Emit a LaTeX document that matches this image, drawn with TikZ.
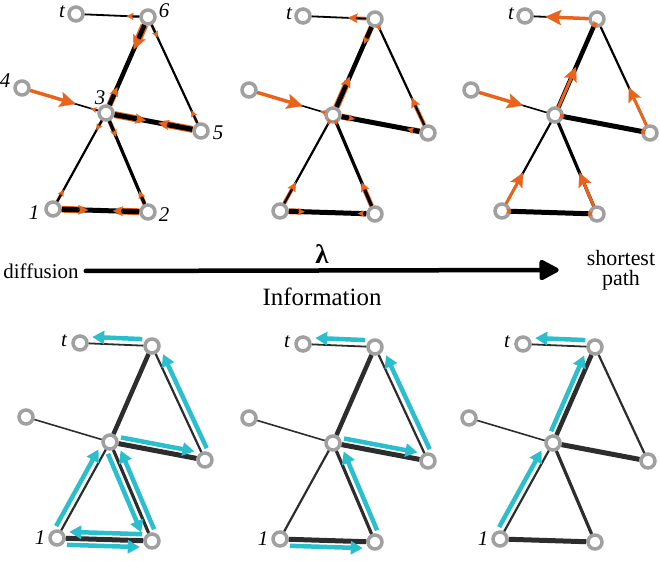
\documentclass[tikz,border=0pt]{standalone}
\usepackage{fontspec}
\setmainfont{Liberation Serif}
\usetikzlibrary{calc,arrows.meta}
\definecolor{org}{RGB}{232,100,28}
\definecolor{cyn}{RGB}{43,190,205}
\definecolor{ringgray}{RGB}{160,160,160}
\definecolor{dk}{RGB}{45,45,45}
\tikzset{
  vtx/.style={circle,draw=ringgray,line width=3.5bp,fill=white,minimum size=14bp,inner sep=0pt},
  lbl/.style={font=\fontsize{21}{21}\selectfont\itshape,inner sep=0pt},
  txt/.style={font=\fontsize{21}{21}\selectfont,inner sep=0pt,align=center},
  cyarr/.style={draw=cyn,line width=4.5bp,-{Triangle[length=12bp,width=13bp]}},
  mainarr/.style={draw=black,line width=4.5bp,-{Triangle[length=22bp,width=22bp,round]}},
}
\newcommand\mkgraph[3]{%
  \node[vtx] (#1-3) at (#2,#3) {};
  \node[vtx] (#1-t) at (#2-30,#3-99) {};
  \node[vtx] (#1-6) at (#2+42,#3-96) {};
  \node[vtx] (#1-4) at (#2-84,#3-25) {};
  \node[vtx] (#1-5) at (#2+95,#3+18) {};
  \node[vtx] (#1-1) at (#2-53,#3+96) {};
  \node[vtx] (#1-2) at (#2+42,#3+99) {};
}
\newcommand\mkedges[2]{%
  \draw[#2,line width=1.8bp] (#1-t) -- (#1-6);
  \draw[#2,line width=4.5bp] (#1-6) -- (#1-3);
  \draw[#2,line width=2.2bp] (#1-6) -- (#1-5);
  \draw[#2,line width=1.6bp] (#1-4) -- (#1-3);
  \draw[#2,line width=5bp] (#1-3) -- (#1-5);
  \draw[#2,line width=2.2bp] (#1-3) -- (#1-1);
  \draw[#2,line width=3.2bp] (#1-3) -- (#1-2);
  \draw[#2,line width=5bp] (#1-1) -- (#1-2);
}
% #1 prefix, #2 under-list a/b/f/w/e, #3 top-list a/b/f/w
\newcommand\oflows[3]{%
  \foreach \a/\b/\f/\w/\e in {#2}{%
    \pgfmathsetmacro\U{\e+\w}\pgfmathsetmacro\H{0.5*(3.6*\w+3.5)}%
    \draw[org,line width=\U bp] (#1-\a) -- ($(#1-\a)!\f!(#1-\b)!\H bp!(#1-\a)$);}
  \mkedges{#1}{black}
  \foreach \a/\b/\f/\w in {#3}{%
    \pgfmathsetmacro\H{0.5*(3.6*\w+3.5)}%
    \draw[org,line width=\w bp] (#1-\a) -- ($(#1-\a)!\f!(#1-\b)!\H bp!(#1-\a)$);}
  \foreach \a/\b/\f/\w/\e in {#2}{\otip{#1}{\a}{\b}{\f}{\w}}
  \foreach \a/\b/\f/\w in {#3}{\otip{#1}{\a}{\b}{\f}{\w}}
}
\newcommand\otip[5]{%
  \pgfmathsetmacro\L{3.6*#5+3.5}\pgfmathsetmacro\W{3.4*#5+3.5}\pgfmathsetmacro\I{0.2*\L}%
  \draw[org,line width=0.2bp,-{Stealth[length=\L bp,width=\W bp,inset=\I bp]}]
    ($(#1-#2)!#4!(#1-#3)!\L bp!(#1-#2)$) -- ($(#1-#2)!#4!(#1-#3)$);
}
% cyan arrows: a/b/side(90 or 270)
\newcommand\cflows[2]{%
  \foreach \a/\b/\s in {#2}{%
    \pgfmathsetmacro\sb{360-\s}%
    \draw[cyarr] ($(#1-\a)!10bp!(#1-\b)!6.5bp!\s:(#1-\b)$) -- ($(#1-\b)!12bp!(#1-\a)!6.5bp!\sb:(#1-\a)$);}
}
\begin{document}
\begin{tikzpicture}[x=1bp,y=-1bp]
\useasboundingbox (0,0) rectangle (660,561);
% ---------- top row ----------
\mkgraph{g1}{106}{113}
\mkgraph{g2}{333}{115}
\mkgraph{g3}{555}{115}
\oflows{g1}{6/t/0.3/1/1.8, 3/6/0.27/1.6/4.5, 6/3/0.34/3/4.5, 6/5/0.18/0.8/2.2, 5/6/0.18/0.8/2.2, 3/4/0.18/0.6/1.6, 3/5/0.42/2/5, 5/3/0.45/2/5, 3/1/0.18/0.8/2.2, 1/3/0.2/0.8/2.2, 3/2/0.24/1/3.2, 2/3/0.21/1/3.2, 1/2/0.37/1.8/5, 2/1/0.37/1.8/5}{4/3/0.64/3.5}
\oflows{g2}{6/t/0.38/1.8/1.8, 6/3/0.26/1/4.5, 3/6/0.4/2/4.5, 6/5/0.1/0.5/2.2, 5/6/0.31/1.8/2.2, 3/4/0.15/0.5/1.6, 3/5/0.23/0.9/5, 5/3/0.22/0.9/5, 3/1/0.1/0.5/2.2, 1/3/0.3/1.6/2.2, 3/2/0.1/0.5/3.2, 2/3/0.32/1.6/3.2, 1/2/0.26/0.9/5, 2/1/0.18/0.7/5}{4/3/0.64/3.5}
\oflows{g3}{6/3/0.08/0.5/4.5, 3/5/0.1/0.5/5, 5/3/0.1/0.5/5, 1/2/0.1/0.5/5, 2/1/0.1/0.5/5}{6/t/0.72/3.5, 3/6/0.5/3, 5/6/0.4/3, 4/3/0.62/3.5, 1/3/0.4/3, 2/3/0.42/3}
\node[lbl] (g1-lt) at ($(g1-t)+(-14,-2)$) {t};
\node[lbl] (g1-l6) at ($(g1-6)+(16,-6)$) {6};
\node[lbl] (g1-l4) at ($(g1-4)+(-17,-7)$) {4};
\node[lbl] (g1-l3) at ($(g1-3)+(-6,-15)$) {3};
\node[lbl] (g1-l5) at ($(g1-5)+(17,2)$) {5};
\node[lbl] (g1-l1) at ($(g1-1)+(-19,4)$) {1};
\node[lbl] (g1-l2) at ($(g1-2)+(16,3)$) {2};
\node[lbl] (g2-lt) at ($(g2-t)+(-14,-2)$) {t};
\node[lbl] (g3-lt) at ($(g3-t)+(-14,-2)$) {t};
% ---------- middle ----------
\node[txt] (diff) at (41,271) {diffusion};
\node[txt,font=\fontsize{22}{20}\selectfont] (sp) at (621,270) {shortest\\path};
\draw[mainarr,line cap=round,shorten <=7bp] (diff.east) -- ($(sp.west)+(-28,0)$);
\node[txt,font=\fontsize{27}{27}\selectfont\bfseries] (lam) at (322,254) {λ};
\node[txt,font=\fontsize{25}{25}\selectfont] (info) at (322,297) {Information};
% ---------- bottom row ----------
\mkgraph{b1}{110}{442}
\mkgraph{b2}{333}{443}
\mkgraph{b3}{553}{443}
\mkedges{b1}{dk}
\mkedges{b2}{dk}
\mkedges{b3}{dk}
\cflows{b1}{1/3/90, 3/2/270, 2/3/270, 2/1/270, 1/2/270, 3/5/90, 5/6/270, 6/t/270}
\cflows{b2}{1/2/270, 2/3/270, 3/5/90, 5/6/270, 6/t/270}
\cflows{b3}{1/3/90, 3/6/90, 6/t/270}
\node[lbl] (b1-lt) at ($(b1-t)+(-16,-2)$) {t};
\node[lbl] (b1-l1) at ($(b1-1)+(-17,0)$) {1};
\node[lbl] (b2-lt) at ($(b2-t)+(-16,-2)$) {t};
\node[lbl] (b2-l1) at ($(b2-1)+(-17,0)$) {1};
\node[lbl] (b3-lt) at ($(b3-t)+(-16,-2)$) {t};
\node[lbl] (b3-l1) at ($(b3-1)+(-17,0)$) {1};
\end{tikzpicture}
\end{document}
